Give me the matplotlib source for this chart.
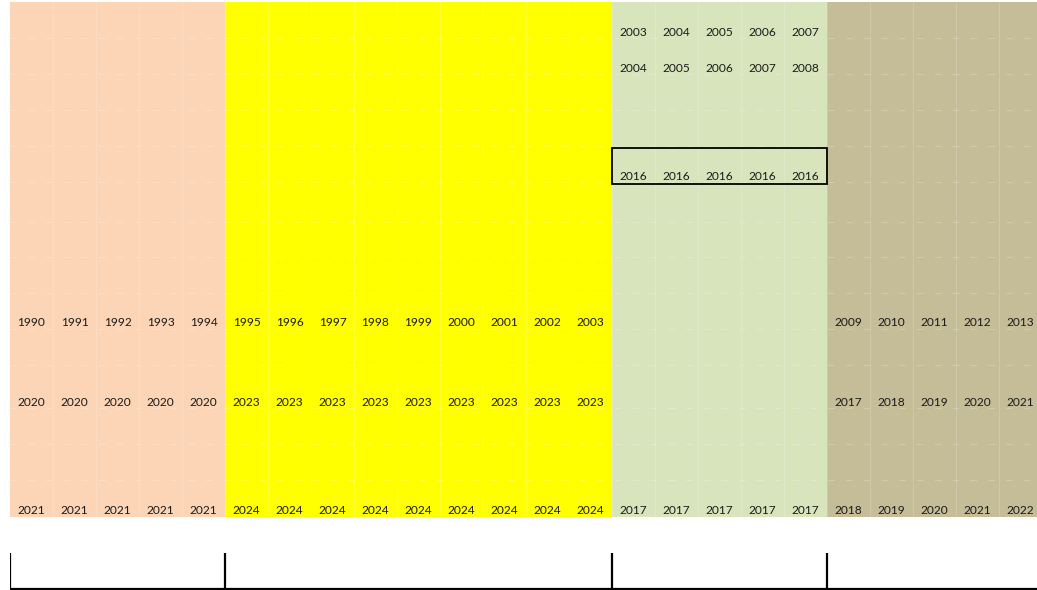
import matplotlib
matplotlib.use("Agg")
import matplotlib.pyplot as plt
from matplotlib.patches import Rectangle

# ---- data ----
group_names = ["peach", "yellow", "green", "tan"]
group_sizes = [5, 9, 5, 5]
group_colors = ["#FBD5B5", "#FFFF00", "#D8E4BC", "#C4BD97"]

row1_green = ["2003", "2004", "2005", "2006", "2007"]
row2_green = ["2004", "2005", "2006", "2007", "2008"]
row3_green = ["2016", "2016", "2016", "2016", "2016"]
row4_peach = ["1990", "1991", "1992", "1993", "1994"]
row4_yellow = ["1995", "1996", "1997", "1998", "1999", "2000", "2001", "2002", "2003"]
row4_tan = ["2009", "2010", "2011", "2012", "2013"]
row5_peach = ["2020"] * 5
row5_yellow = ["2023"] * 9
row5_tan = ["2017", "2018", "2019", "2020", "2021"]
row6_peach = ["2021"] * 5
row6_yellow = ["2024"] * 9
row6_green = ["2017"] * 5
row6_tan = ["2018", "2019", "2020", "2021", "2022"]

W, H = 1037, 590
COLW = 43.0
fig = plt.figure(figsize=(W / 100, H / 100), dpi=100)
fig.patch.set_facecolor("white")

left_px, top_px, bottom_px = 10, 2, 517
ax = fig.add_axes([left_px / W, 1 - bottom_px / H, (W - left_px) / W, (bottom_px - top_px) / H])
ncols_visible = (W - left_px) / COLW
ax.set_xlim(0, ncols_visible)
ax.set_ylim(bottom_px, top_px)
ax.axis("off")

starts = []
s = 0
for n, c in zip(group_sizes, group_colors):
    starts.append(s)
    ax.axvspan(s, s + n, color=c, lw=0, zorder=0)
    s += n
total_cols = s

# faint grid
for k in range(1, total_cols + 1):
    ax.axvline(k, color="white", alpha=0.18, lw=0.8, zorder=1)
for y in [38, 74, 110, 146, 182, 222, 257, 293, 329, 365, 408, 444, 480]:
    ax.axhline(y, color="white", alpha=0.22, lw=0.8, dashes=(6, 10), zorder=1)

font = dict(family=["Lato", "DejaVu Sans"], fontsize=8.6, color="#1a1a1a", ha="center", va="center", zorder=3)

def put(labels, start, y):
    for i, t in enumerate(labels):
        ax.text(start + i + 0.5, y + 1, t, **font)

put(row1_green, starts[2], 31)
put(row2_green, starts[2], 67)
put(row3_green, starts[2], 176)
put(row4_peach, starts[0], 322)
put(row4_yellow, starts[1], 322)
put(row4_tan, starts[3], 322)
put(row5_peach, starts[0], 401)
put(row5_yellow, starts[1], 401)
put(row5_tan, starts[3], 401)
put(row6_peach, starts[0], 509)
put(row6_yellow, starts[1], 509)
put(row6_green, starts[2], 509)
put(row6_tan, starts[3], 509)

ax.add_patch(Rectangle((starts[2], 147.5), group_sizes[2], 36.5, fill=False,
                       edgecolor="black", lw=1.3, zorder=4))

# bottom bracket axis
b_top, b_bot = 553, 590
bx = fig.add_axes([left_px / W, 1 - b_bot / H, (W - left_px) / W, (b_bot - b_top) / H])
bx.set_xlim(0, ncols_visible)
bx.set_ylim(0, 1)
bx.axis("off")
for st in starts:
    bx.plot([st, st], [0.03, 1], color="black", lw=1.6, solid_capstyle="butt")
bx.plot([0, ncols_visible], [0.03, 0.03], color="black", lw=1.6, solid_capstyle="butt")

fig.savefig("out.png", dpi=100, facecolor="white")
